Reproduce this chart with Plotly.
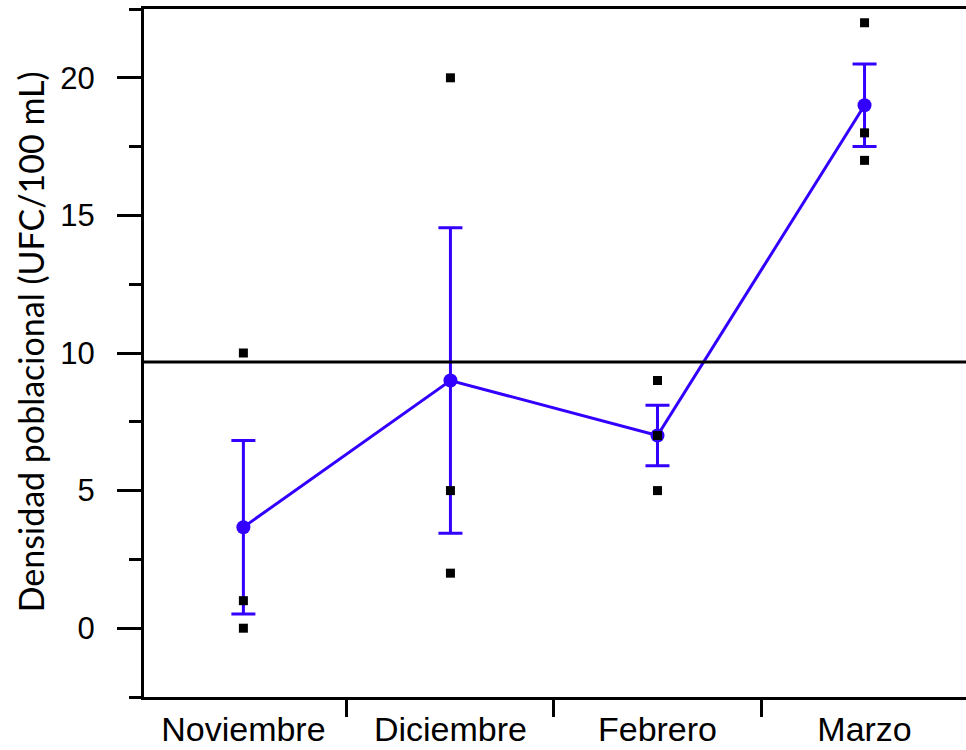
import plotly.graph_objects as go

months = ["Noviembre", "Diciembre", "Febrero", "Marzo"]
rep1 = [10, 20, 9, 22]
rep2 = [1, 5, 7, 18]
rep3 = [0, 2, 5, 17]
means = [3.67, 9.0, 7.0, 19.0]
err = [3.15, 5.55, 1.1, 1.5]
grand_mean = 9.67

BLUE = "#3300FF"
fig = go.Figure()
fig.add_trace(go.Scatter(
    x=months, y=means, mode="lines+markers",
    line=dict(color=BLUE, width=3),
    marker=dict(color=BLUE, size=14, symbol="circle"),
    error_y=dict(type="data", array=err, visible=True, color=BLUE, thickness=3, width=12),
    showlegend=False, cliponaxis=False,
))
for rep in (rep1, rep2, rep3):
    fig.add_trace(go.Scatter(
        x=months, y=rep, mode="markers",
        marker=dict(color="black", size=9, symbol="square"),
        showlegend=False,
    ))
fig.add_hline(y=grand_mean, line=dict(color="black", width=3), layer="above")

fig.update_layout(
    width=966, height=750,
    margin=dict(l=144, r=0, t=9, b=53),
    plot_bgcolor="white", paper_bgcolor="white",
    font=dict(family="Liberation Sans, Arial, sans-serif", color="black"),
)
fig.update_xaxes(
    type="category", range=[-0.48, 3.49],
    showline=True, linecolor="black", linewidth=3, mirror=True,
    ticks="outside", tickson="boundaries", ticklen=17, tickwidth=3, tickcolor="black",
    showgrid=False, zeroline=False,
    tickfont=dict(size=34, family="Liberation Sans, Arial, sans-serif"),
)
fig.update_yaxes(
    range=[-2.5, 22.5],
    tickvals=[0, 5, 10, 15, 20],
    showline=True, linecolor="black", linewidth=3,
    ticks="outside", ticklen=24, tickwidth=3, tickcolor="black",
    ticklabelstandoff=16,
    minor=dict(tick0=0, dtick=2.5, ticks="outside", ticklen=12, tickwidth=3, tickcolor="black"),
    showgrid=False, zeroline=False,
    tickfont=dict(size=31, family="Liberation Sans, Arial, sans-serif"),
)
fig.add_annotation(
    text="Densidad poblacional (UFC/100 mL)", textangle=-90,
    xref="paper", yref="paper", x=-0.1387, y=0.517,
    xanchor="center", yanchor="middle", showarrow=False,
    font=dict(size=34, family="Lato, Liberation Sans, sans-serif"),
)
fig.write_html("out.html")
